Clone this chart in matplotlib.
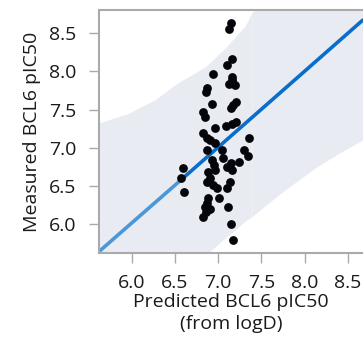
import numpy as np
import matplotlib
matplotlib.use("Agg")
import matplotlib.pyplot as plt

plt.rcParams['font.family'] = ['Open Sans', 'DejaVu Sans']

# measured vs predicted pIC50
pred = [7.143, 7.128, 7.162, 7.097, 6.935, 7.155, 7.166, 7.128, 7.193, 7.155,
        6.874, 6.858, 7.201, 7.174, 7.147, 6.924, 6.820, 6.851, 7.212, 7.155,
        7.089, 6.962, 6.820, 6.874, 6.905, 7.359, 6.962, 6.866, 7.047, 7.297,
        7.347, 7.058, 7.239, 6.924, 6.951, 7.097, 7.155, 6.597, 6.566, 6.608,
        6.885, 6.905, 6.874, 6.935, 6.982, 7.135, 7.097, 7.012, 6.885, 6.866,
        6.847, 6.858, 6.820, 6.905, 7.116, 7.147, 7.174, 6.958, 7.143]
meas = [8.631, 8.557, 8.160, 8.086, 7.963, 7.933, 7.859, 7.832, 7.824, 7.889,
        7.789, 7.728, 7.606, 7.562, 7.518, 7.571, 7.466, 7.401, 7.335, 7.313,
        7.291, 7.257, 7.200, 7.134, 7.104, 7.134, 7.060, 6.969, 6.969, 6.973,
        6.899, 6.864, 6.820, 6.842, 6.777, 6.755, 6.711, 6.733, 6.611, 6.428,
        6.689, 6.602, 6.558, 6.515, 6.480, 6.558, 6.480, 6.340, 6.340, 6.275,
        6.231, 6.166, 6.100, 6.201, 6.231, 6.009, 5.791, 6.711, 6.803]

# fitted line
fit_x = [5.63, 6.57, 8.68]
fit_y = [5.65, 6.58, 8.68]

# prediction band
band_x = [5.63, 5.96, 6.27, 6.52, 6.85, 6.90, 7.12, 7.17, 7.31, 7.39, 7.75, 8.14, 8.40, 8.68]
band_lo = [4.01, 4.50, 4.93, 5.22, 5.58, 5.64, 5.86, 5.90, 6.04, 6.10, 6.43, 6.75, 6.93, 7.11]
band_hi = [7.33, 7.45, 7.63, 7.84, 8.06, 8.11, 8.35, 8.42, 8.59, 8.77, 9.09, 9.53, 9.88, 10.24]

fig = plt.figure(figsize=(3.63, 3.47), dpi=100)
ax = fig.add_axes([0.2736, 0.2709, 0.7264, 0.7003])

band_col = '#e8ebf2'
# band drawn in three pieces
for a, b in [(0, 3), (3, 9), (9, 13)]:
    ax.fill_between(band_x[a:b + 1], band_lo[a:b + 1], band_hi[a:b + 1],
                    color=band_col, linewidth=0, zorder=1)

ax.plot(fit_x[:2], fit_y[:2], color='#4a98d8', lw=2.6, solid_capstyle='butt', zorder=2)
ax.plot(fit_x[1:], fit_y[1:], color='#0a6dcc', lw=2.6, solid_capstyle='butt', zorder=2)

ax.scatter(pred, meas, s=40, color='#05060c', linewidths=0, zorder=3)

ax.set_xlim(5.626, 8.675)
ax.set_ylim(5.624, 8.805)
ax.set_xticks([6.0, 6.5, 7.0, 7.5, 8.0, 8.5])
ax.set_yticks([6.0, 6.5, 7.0, 7.5, 8.0, 8.5])

for s in ['left', 'bottom', 'top']:
    ax.spines[s].set_color('#aaaaaa')
    ax.spines[s].set_linewidth(1.5)
ax.spines['right'].set_visible(False)
ax.tick_params(length=7, width=1, color='#aaaaaa', labelsize=14,
               labelcolor='#1a1a1a')
ax.tick_params(axis='x', pad=8)
ax.tick_params(axis='y', pad=9.5)

ax.set_xlabel('Predicted BCL6 pIC50\n(from logD)', fontsize=14, color='#1a1a1a',
              labelpad=0.5, linespacing=1.3)
ax.set_ylabel('Measured BCL6 pIC50', fontsize=14, color='#1a1a1a', labelpad=6)

fig.savefig('out.png', dpi=100)
